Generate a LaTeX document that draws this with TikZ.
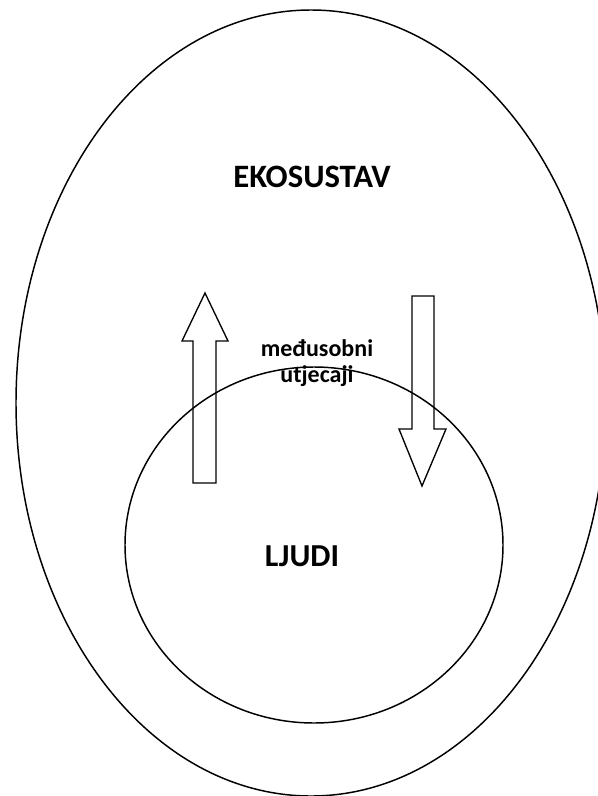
\documentclass[tikz,border=0pt]{standalone}
\usepackage{fontspec}
\setmainfont{Carlito}
\usetikzlibrary{positioning}

\begin{document}
\begin{tikzpicture}[x=0.75pt,y=-0.75pt]
	\tikzstyle{every node}=[font=\bfseries]
	\useasboundingbox (0,0) rectangle (597,796);
	% ekosustav i ljudi
	\draw [line width=1.1pt] (311,403) ellipse [x radius=295, y radius=393];
	\draw [line width=1.1pt] (314,545) ellipse [x radius=189, y radius=178];
	% strelice
	\draw [line width=1pt] (193,483) -- (193,341) -- (182,341) -- (205,293) -- (228,341) -- (216,341) -- (216,483) -- cycle;
	\draw [line width=1pt] (412,296) -- (434,296) -- (434,429) -- (446,429) -- (422,486) -- (399,429) -- (412,429) -- cycle;
	\node [font=\fontsize{24.5}{28}\selectfont\bfseries] (eko) at (312,177) {EKOSUSTAV};
	\node [font=\fontsize{24}{28}\selectfont\bfseries] (ljudi) at (302,556) {LJUDI};
	\node [font=\fontsize{18}{20}\selectfont\bfseries, align=center] (utj) at (317,363) {međusobni\\utjecaji};
\end{tikzpicture}
\end{document}
